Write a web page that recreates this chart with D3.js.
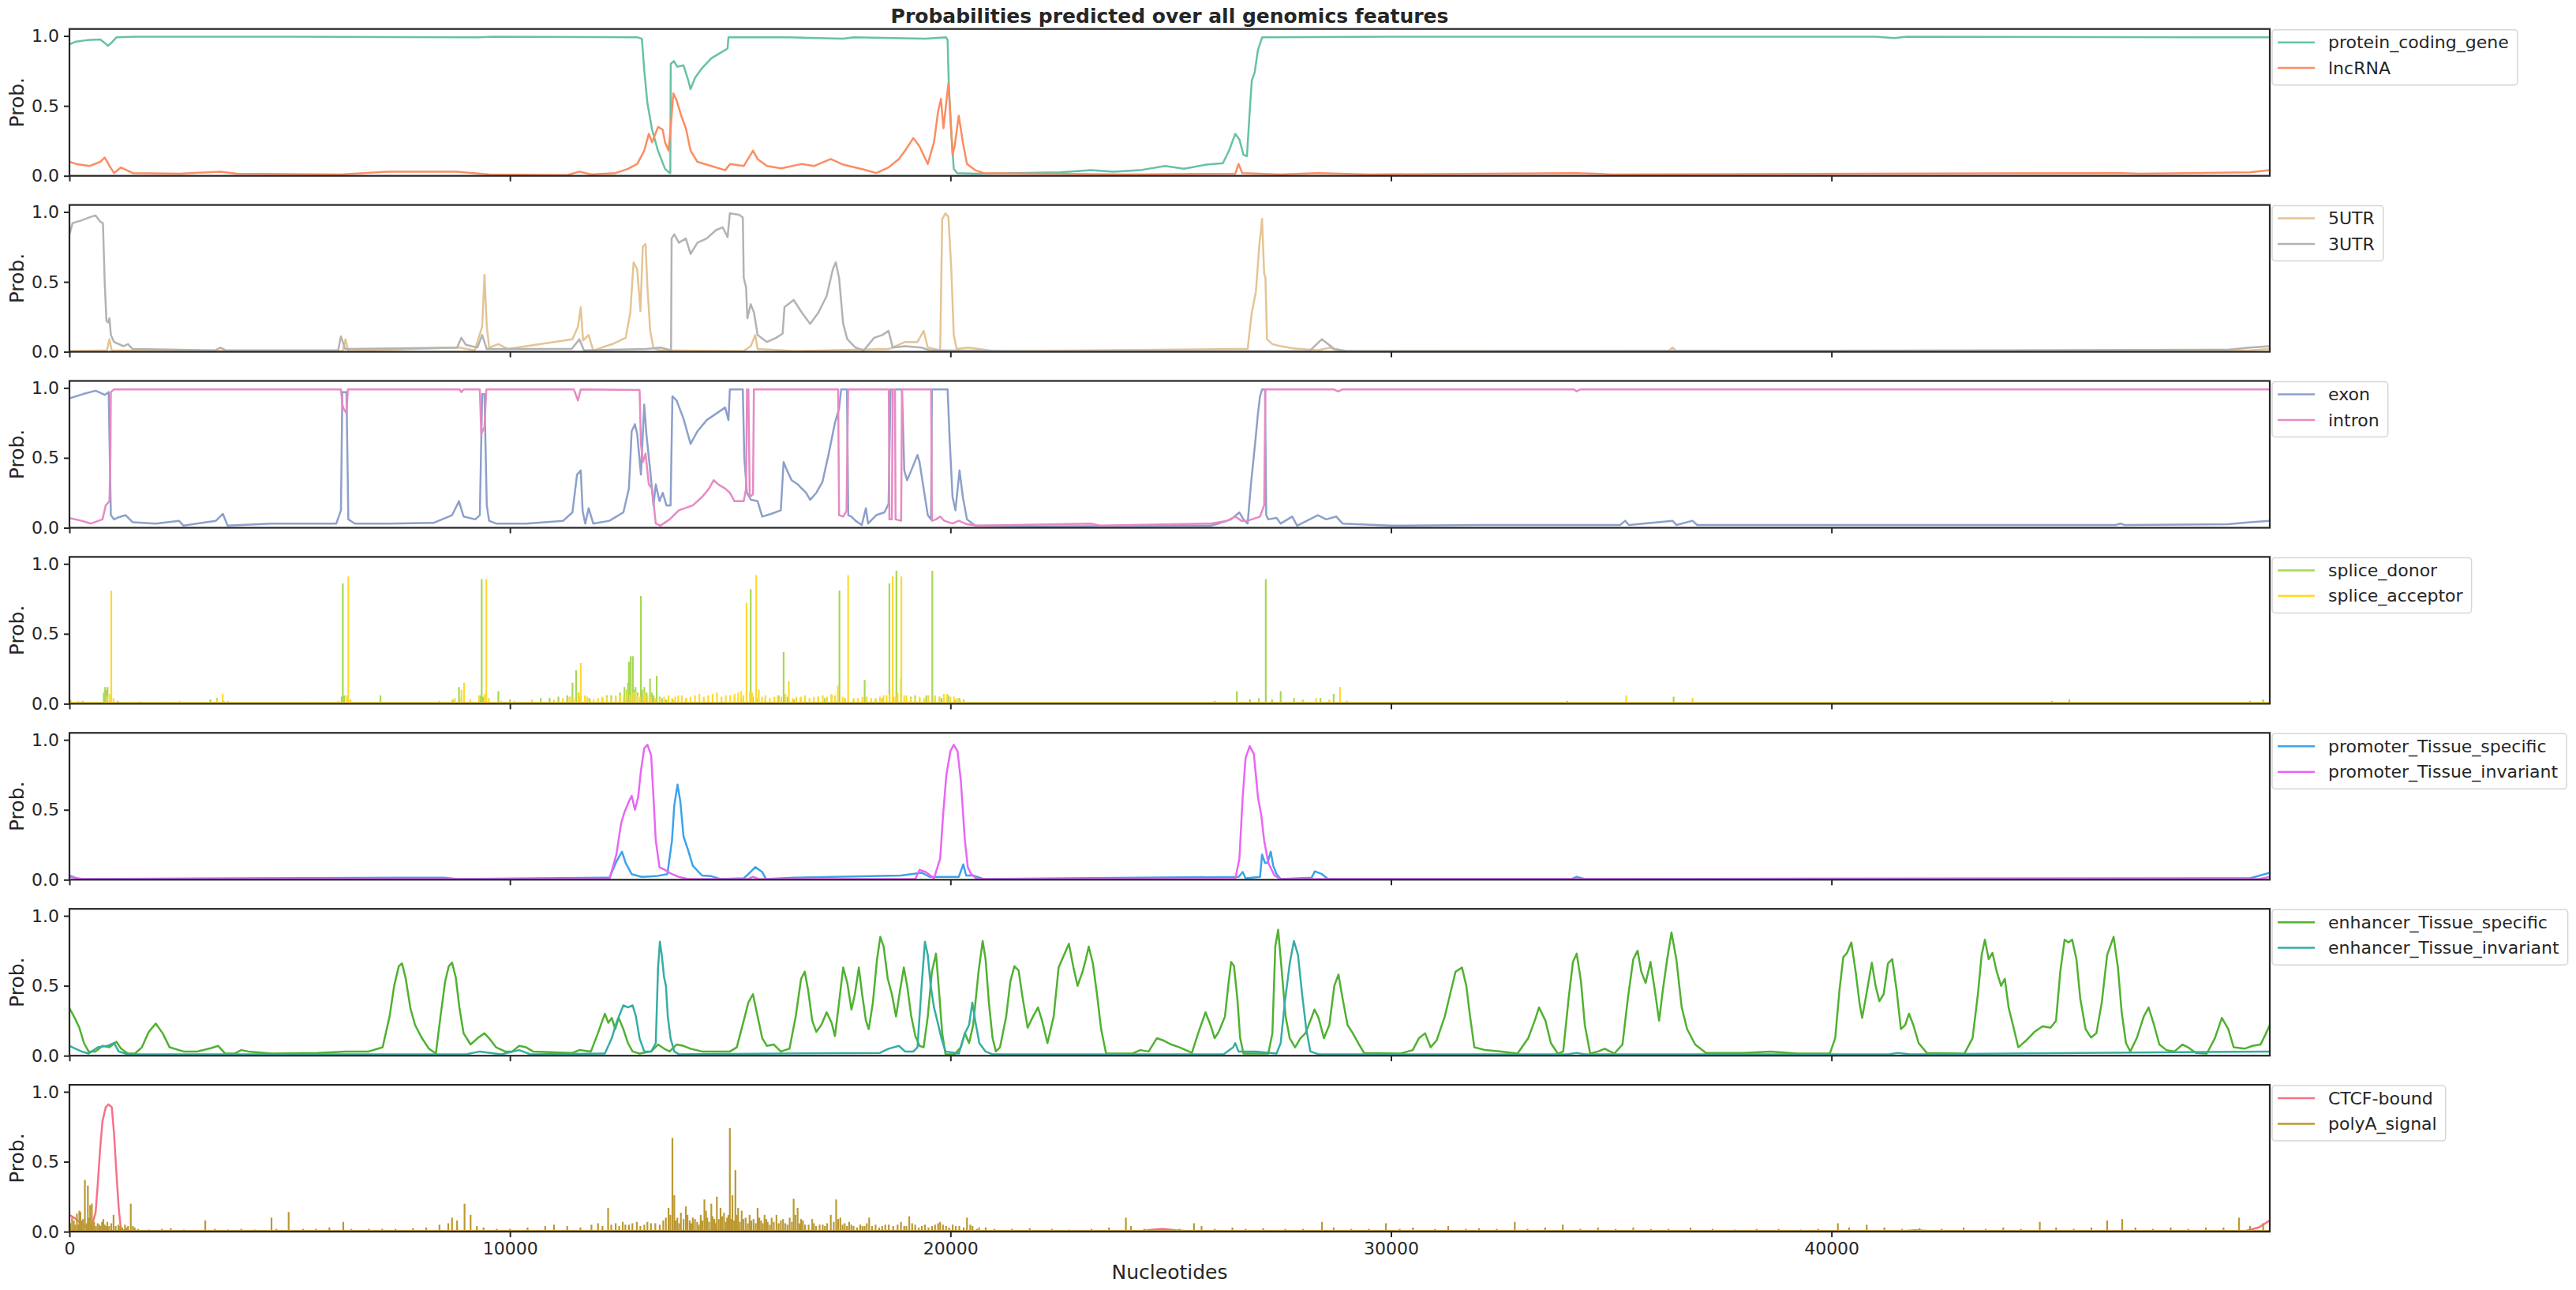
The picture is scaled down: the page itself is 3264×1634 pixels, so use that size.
<!DOCTYPE html>
<html><head><meta charset="utf-8">
<script src="https://cdn.jsdelivr.net/npm/d3@7"></script>
<style>
body{margin:0;background:#fff}
svg{display:block}
text{font-family:"DejaVu Sans",sans-serif;fill:#262626}
</style>
</head><body>
<svg id="chart" width="3264" height="1634"></svg>
<script>
// ---------------- DATA ----------------
const xMax = 49950;
const xTicks = [0, 10000, 20000, 30000, 40000];
const yTicks = [0, 0.5, 1.0];
const titleText = "Probabilities predicted over all genomics features";
const xLabel = "Nucleotides";
const yLabel = "Prob.";

const seriesNames = [
  ["protein_coding_gene", "lncRNA"],
  ["5UTR", "3UTR"],
  ["exon", "intron"],
  ["splice_donor", "splice_acceptor"],
  ["promoter_Tissue_specific", "promoter_Tissue_invariant"],
  ["enhancer_Tissue_specific", "enhancer_Tissue_invariant"],
  ["CTCF-bound", "polyA_signal"]
];

const proteinCoding = [[0,0.94],[150,0.96],[400,0.97],[700,0.975],[800,0.95],[870,0.93],[950,0.95],[1066,0.99],[1500,0.995],[5000,0.995],[9300,0.99],[9600,0.995],[12900,0.99],[12995,0.98],[13050,0.75],[13120,0.52],[13226,0.33],[13360,0.18],[13520,0.05],[13625,0.02],[13640,0.02],[13650,0.80],[13720,0.82],[13800,0.78],[13940,0.79],[14050,0.68],[14100,0.62],[14200,0.70],[14360,0.77],[14570,0.84],[14780,0.88],[14940,0.91],[14960,0.99],[15500,0.99],[16335,0.99],[17564,0.98],[17800,0.99],[19438,0.98],[19900,0.99],[19935,0.97],[19960,0.68],[20000,0.40],[20075,0.05],[20150,0.02],[20562,0.015],[21500,0.02],[22500,0.025],[23186,0.04],[23700,0.03],[24300,0.04],[24872,0.07],[25300,0.05],[25809,0.08],[26184,0.09],[26324,0.18],[26465,0.30],[26560,0.26],[26652,0.15],[26730,0.14],[26793,0.46],[26840,0.68],[26906,0.74],[26980,0.90],[27074,0.99],[30000,0.995],[41000,0.995],[41429,0.985],[41700,0.995],[49950,0.99]];

const lncRNA = [[0,0.10],[150,0.085],[450,0.07],[700,0.10],[800,0.13],[860,0.10],[908,0.07],[1013,0.02],[1170,0.06],[1434,0.02],[2500,0.015],[3430,0.03],[3800,0.015],[6163,0.01],[7214,0.03],[8790,0.03],[9526,0.01],[11300,0.005],[11576,0.03],[11850,0.01],[12400,0.02],[12679,0.05],[12890,0.085],[13048,0.18],[13152,0.30],[13226,0.24],[13362,0.35],[13468,0.33],[13520,0.24],[13600,0.18],[13646,0.33],[13709,0.59],[13783,0.54],[13888,0.43],[13993,0.34],[14100,0.18],[14257,0.10],[14571,0.07],[14886,0.04],[15000,0.085],[15307,0.07],[15517,0.18],[15622,0.12],[15834,0.07],[16159,0.053],[16627,0.085],[16900,0.07],[17283,0.12],[17564,0.08],[18033,0.045],[18314,0.02],[18595,0.06],[18830,0.12],[18970,0.18],[19157,0.27],[19298,0.21],[19485,0.085],[19626,0.24],[19719,0.46],[19785,0.55],[19841,0.34],[19907,0.53],[19953,0.66],[20000,0.43],[20047,0.15],[20094,0.21],[20188,0.43],[20281,0.24],[20375,0.085],[20562,0.04],[20750,0.02],[22000,0.015],[24000,0.01],[26465,0.015],[26540,0.085],[26624,0.02],[27500,0.01],[28339,0.02],[29500,0.01],[34216,0.02],[35000,0.01],[46563,0.02],[47000,0.015],[49500,0.025],[49950,0.04]];

const utr5 = [[0,0.005],[850,0.01],[908,0.09],[960,0.01],[6200,0.005],[6268,0.09],[6330,0.005],[8850,0.03],[9200,0.01],[9369,0.18],[9422,0.55],[9474,0.18],[9530,0.03],[9737,0.055],[9950,0.02],[11418,0.09],[11544,0.18],[11607,0.32],[11660,0.08],[11786,0.12],[11891,0.01],[12364,0.06],[12627,0.10],[12732,0.28],[12806,0.64],[12889,0.59],[12962,0.29],[13015,0.75],[13078,0.77],[13121,0.46],[13184,0.15],[13258,0.025],[13420,0.01],[15300,0.005],[15465,0.04],[15570,0.12],[15622,0.02],[16500,0.005],[18600,0.02],[18970,0.07],[19251,0.07],[19391,0.15],[19485,0.03],[19766,0.01],[19813,0.95],[19888,0.99],[19953,0.965],[20019,0.59],[20075,0.12],[20140,0.02],[20400,0.03],[21000,0.005],[26465,0.02],[26746,0.02],[26840,0.28],[26934,0.43],[27008,0.75],[27074,0.95],[27121,0.56],[27150,0.53],[27186,0.09],[27308,0.055],[27496,0.04],[27777,0.025],[28339,0.01],[28620,0.03],[28808,0.005],[36300,0.005],[36392,0.03],[36480,0.005],[49500,0.01],[49950,0.02]];

const utr3 = [[0,0.84],[70,0.92],[277,0.94],[488,0.965],[593,0.975],[698,0.93],[760,0.92],[800,0.50],[840,0.22],[880,0.21],[908,0.24],[940,0.12],[1013,0.07],[1224,0.04],[1329,0.055],[1434,0.02],[3300,0.01],[3430,0.03],[3550,0.01],[6100,0.01],[6163,0.11],[6260,0.02],[8800,0.03],[8896,0.10],[9000,0.05],[9260,0.03],[9369,0.12],[9474,0.02],[11400,0.02],[11576,0.09],[11680,0.01],[13100,0.02],[13420,0.03],[13657,0.01],[13670,0.81],[13730,0.84],[13835,0.78],[13993,0.81],[14100,0.70],[14257,0.78],[14466,0.81],[14676,0.87],[14830,0.89],[14940,0.82],[14992,0.99],[15202,0.98],[15286,0.96],[15307,0.53],[15360,0.46],[15390,0.24],[15465,0.34],[15540,0.28],[15622,0.12],[15834,0.07],[16044,0.10],[16190,0.13],[16232,0.32],[16440,0.37],[16627,0.28],[16815,0.20],[17002,0.28],[17190,0.40],[17330,0.59],[17396,0.64],[17471,0.53],[17564,0.20],[17658,0.09],[17845,0.03],[18033,0.01],[18267,0.10],[18455,0.12],[18595,0.15],[18689,0.03],[18970,0.04],[19345,0.03],[19532,0.01],[22000,0.005],[28151,0.005],[28432,0.09],[28714,0.02],[29000,0.005],[40000,0.008],[49000,0.015],[49500,0.03],[49950,0.04]];

const exon = [[0,0.925],[300,0.955],[593,0.98],[803,0.95],[890,0.97],[940,0.09],[1013,0.06],[1118,0.075],[1276,0.09],[1434,0.04],[1959,0.03],[2485,0.05],[2590,0.015],[3325,0.05],[3483,0.10],[3590,0.015],[4587,0.03],[5100,0.03],[6058,0.03],[6163,0.125],[6195,0.97],[6289,0.97],[6331,0.06],[6480,0.03],[7214,0.03],[8264,0.035],[8686,0.09],[8843,0.19],[8948,0.08],[9211,0.06],[9316,0.09],[9369,0.955],[9421,0.955],[9474,0.16],[9526,0.05],[9684,0.03],[10367,0.03],[11208,0.05],[11418,0.11],[11523,0.38],[11607,0.41],[11650,0.12],[11710,0.03],[11786,0.14],[11891,0.03],[12259,0.05],[12575,0.11],[12700,0.28],[12763,0.69],[12837,0.74],[12889,0.67],[12973,0.38],[13048,0.88],[13100,0.66],[13184,0.41],[13258,0.16],[13310,0.31],[13394,0.19],[13468,0.25],[13552,0.16],[13646,0.16],[13688,0.94],[13783,0.91],[13940,0.78],[14100,0.60],[14257,0.69],[14466,0.77],[14676,0.815],[14886,0.86],[14960,0.77],[14992,0.99],[15286,0.99],[15320,0.50],[15380,0.25],[15470,0.20],[15622,0.19],[15727,0.08],[15938,0.10],[16148,0.125],[16212,0.47],[16290,0.41],[16393,0.34],[16534,0.31],[16721,0.25],[16815,0.20],[16955,0.25],[17096,0.33],[17236,0.53],[17377,0.75],[17471,0.85],[17518,0.99],[17650,0.99],[17680,0.09],[17752,0.08],[17845,0.05],[17986,0.02],[18080,0.14],[18130,0.03],[18314,0.09],[18500,0.11],[18595,0.17],[18640,0.99],[18900,0.99],[18951,0.41],[19017,0.34],[19110,0.41],[19251,0.52],[19298,0.47],[19391,0.28],[19485,0.09],[19560,0.06],[19579,0.99],[19935,0.99],[19982,0.63],[20047,0.22],[20113,0.125],[20206,0.41],[20281,0.22],[20375,0.06],[20562,0.015],[22000,0.01],[25903,0.015],[26090,0.03],[26371,0.06],[26559,0.11],[26652,0.06],[26746,0.03],[26821,0.31],[26915,0.60],[26980,0.815],[27027,0.94],[27074,0.99],[27140,0.99],[27168,0.09],[27215,0.06],[27402,0.07],[27496,0.03],[27758,0.08],[27870,0.015],[28339,0.09],[28530,0.06],[28761,0.08],[28900,0.03],[30000,0.015],[32000,0.02],[35200,0.02],[35317,0.05],[35400,0.02],[36392,0.05],[36480,0.02],[36845,0.05],[36950,0.02],[46450,0.02],[46563,0.03],[46650,0.02],[49000,0.025],[49500,0.04],[49950,0.05]];

const intron = [[0,0.07],[277,0.05],[488,0.03],[750,0.06],[824,0.16],[908,0.19],[930,0.5],[940,0.97],[1013,0.99],[6163,0.99],[6195,0.88],[6226,0.85],[6289,0.82],[6320,0.99],[8860,0.99],[8896,0.97],[8950,0.99],[9316,0.99],[9348,0.67],[9421,0.72],[9464,0.99],[11450,0.99],[11544,0.91],[11607,0.99],[12943,0.985],[12973,0.60],[13020,0.47],[13078,0.53],[13152,0.31],[13226,0.28],[13310,0.03],[13415,0.015],[13625,0.06],[13835,0.125],[14151,0.16],[14361,0.22],[14519,0.28],[14624,0.34],[14730,0.31],[14886,0.28],[14992,0.25],[15097,0.19],[15307,0.19],[15360,0.28],[15381,0.99],[15412,0.99],[15444,0.22],[15517,0.24],[15538,0.99],[17450,0.99],[17471,0.09],[17564,0.08],[17640,0.12],[17677,0.99],[18600,0.99],[18614,0.06],[18670,0.06],[18690,0.99],[18740,0.99],[18754,0.06],[18880,0.05],[18900,0.99],[19560,0.99],[19579,0.05],[19672,0.06],[19766,0.08],[19860,0.05],[20047,0.03],[20188,0.05],[20375,0.025],[20600,0.015],[23186,0.03],[23400,0.015],[25903,0.03],[26277,0.05],[26465,0.08],[26605,0.05],[26746,0.05],[27027,0.08],[27121,0.16],[27150,0.99],[28700,0.99],[28800,0.975],[28900,0.99],[34150,0.99],[34216,0.975],[34300,0.99],[49950,0.99]];

const spliceDonor = [[30,0.02],[300,0.02],[780,0.08],[810,0.12],[840,0.10],[866,0.12],[1100,0.02],[1600,0.015],[3200,0.03],[3350,0.04],[3500,0.02],[5500,0.01],[6180,0.05],[6205,0.86],[6240,0.06],[7060,0.06],[8700,0.03],[8843,0.12],[8900,0.05],[9330,0.06],[9358,0.89],[9390,0.05],[9737,0.09],[10000,0.03],[10700,0.04],[10900,0.04],[11100,0.05],[11300,0.06],[11420,0.15],[11502,0.24],[11560,0.08],[11600,0.05],[11700,0.03],[11800,0.04],[12100,0.04],[12200,0.06],[12300,0.06],[12400,0.05],[12500,0.08],[12600,0.12],[12650,0.10],[12680,0.15],[12700,0.30],[12742,0.34],[12790,0.34],[12820,0.10],[12850,0.12],[12900,0.08],[12973,0.77],[13000,0.10],[13050,0.12],[13100,0.08],[13180,0.18],[13220,0.08],[13260,0.06],[13331,0.20],[13400,0.05],[13450,0.04],[13550,0.03],[13700,0.03],[14000,0.04],[14400,0.03],[14800,0.04],[15100,0.05],[15250,0.04],[15465,0.82],[15520,0.05],[15600,0.04],[15800,0.04],[16000,0.04],[16100,0.06],[16212,0.37],[16300,0.05],[16450,0.03],[16600,0.04],[17000,0.05],[17150,0.04],[17300,0.06],[17480,0.81],[17600,0.04],[17800,0.03],[18052,0.17],[18300,0.03],[18450,0.04],[18614,0.86],[18700,0.05],[18773,0.95],[18876,0.18],[19100,0.05],[19200,0.06],[19300,0.04],[19450,0.06],[19588,0.95],[19650,0.05],[19750,0.05],[19800,0.04],[19950,0.06],[20100,0.03],[20200,0.04],[20300,0.03],[21000,0.01],[26000,0.02],[26502,0.09],[26800,0.03],[27000,0.04],[27158,0.89],[27300,0.03],[27496,0.09],[27800,0.04],[28000,0.03],[28400,0.04],[28700,0.07],[29000,0.02],[30000,0.01],[34000,0.02],[36417,0.05],[38000,0.01],[45000,0.02],[45400,0.03],[49500,0.02],[49800,0.03]];

const spliceAcceptor = [[20,0.03],[200,0.02],[500,0.015],[850,0.05],[920,0.07],[950,0.81],[1000,0.04],[1400,0.015],[2100,0.015],[2500,0.02],[3350,0.03],[3480,0.07],[3600,0.02],[4500,0.01],[5500,0.015],[6100,0.02],[6300,0.06],[6331,0.91],[6380,0.03],[7200,0.01],[8400,0.02],[8750,0.04],[8900,0.10],[8959,0.15],[9100,0.03],[9300,0.06],[9430,0.07],[9463,0.89],[9520,0.04],[9800,0.02],[10100,0.02],[10500,0.03],[11000,0.03],[11200,0.04],[11350,0.05],[11400,0.06],[11480,0.04],[11550,0.08],[11607,0.29],[11700,0.06],[11750,0.05],[11820,0.03],[11900,0.03],[12000,0.04],[12100,0.05],[12200,0.05],[12300,0.04],[12400,0.06],[12500,0.06],[12580,0.05],[12660,0.10],[12720,0.06],[12800,0.08],[12850,0.09],[12900,0.06],[12950,0.05],[13050,0.08],[13120,0.06],[13200,0.05],[13300,0.04],[13400,0.04],[13500,0.05],[13600,0.06],[13680,0.04],[13750,0.05],[13820,0.06],[13900,0.06],[14000,0.04],[14100,0.05],[14200,0.06],[14300,0.07],[14400,0.05],[14500,0.06],[14600,0.07],[14700,0.08],[14800,0.05],[14900,0.06],[15000,0.06],[15100,0.07],[15180,0.08],[15250,0.09],[15300,0.06],[15370,0.72],[15450,0.09],[15500,0.08],[15590,0.92],[15650,0.10],[15720,0.05],[15800,0.06],[15900,0.04],[16000,0.05],[16080,0.06],[16159,0.05],[16250,0.07],[16330,0.16],[16420,0.04],[16500,0.05],[16600,0.05],[16700,0.06],[16800,0.04],[16900,0.05],[17000,0.05],[17100,0.06],[17200,0.05],[17300,0.07],[17380,0.06],[17442,0.13],[17550,0.05],[17600,0.04],[17677,0.92],[17800,0.04],[17900,0.04],[18000,0.05],[18100,0.05],[18200,0.04],[18300,0.04],[18400,0.05],[18480,0.06],[18550,0.06],[18620,0.07],[18689,0.91],[18750,0.05],[18800,0.08],[18885,0.91],[18950,0.06],[19000,0.06],[19100,0.04],[19200,0.05],[19300,0.05],[19400,0.04],[19500,0.06],[19650,0.06],[19750,0.05],[19850,0.07],[19920,0.07],[20000,0.05],[20080,0.05],[20150,0.04],[20220,0.03],[20300,0.02],[21500,0.005],[26000,0.01],[27000,0.02],[28000,0.03],[28300,0.04],[28600,0.03],[28844,0.12],[29000,0.02],[29500,0.01],[31000,0.01],[33000,0.01],[35341,0.06],[36845,0.04],[38000,0.01],[40000,0.01],[43000,0.01],[46500,0.01],[49000,0.01]];

const promoterSpecific = [[0,0.03],[200,0.005],[8500,0.015],[8800,0.005],[12259,0.015],[12416,0.13],[12543,0.20],[12627,0.12],[12763,0.04],[12990,0.02],[13310,0.025],[13573,0.04],[13678,0.28],[13730,0.53],[13804,0.68],[13867,0.56],[13940,0.31],[14046,0.21],[14151,0.10],[14361,0.03],[14571,0.025],[14780,0.005],[15307,0.01],[15412,0.04],[15570,0.09],[15727,0.055],[15812,0.005],[16440,0.015],[18876,0.03],[19345,0.05],[19532,0.02],[20188,0.02],[20291,0.11],[20355,0.03],[20516,0.03],[20750,0.005],[26540,0.02],[26634,0.055],[26700,0.01],[27027,0.02],[27074,0.18],[27140,0.12],[27196,0.12],[27271,0.20],[27327,0.10],[27402,0.04],[27496,0.005],[28198,0.015],[28273,0.06],[28432,0.04],[28573,0.005],[34100,0.005],[34216,0.02],[34400,0.005],[49500,0.01],[49950,0.05]];

const promoterInvariant = [[0,0.02],[300,0.005],[12259,0.005],[12416,0.18],[12522,0.40],[12596,0.48],[12701,0.56],[12763,0.60],[12837,0.50],[12910,0.59],[12973,0.78],[13048,0.94],[13121,0.965],[13205,0.89],[13258,0.59],[13310,0.28],[13394,0.09],[13520,0.07],[13678,0.04],[13835,0.02],[14046,0.005],[15400,0.005],[15517,0.02],[15650,0.005],[19200,0.005],[19298,0.07],[19438,0.055],[19626,0.01],[19766,0.15],[19832,0.46],[19907,0.75],[20000,0.92],[20075,0.965],[20160,0.92],[20235,0.71],[20328,0.28],[20394,0.09],[20469,0.04],[20609,0.005],[26465,0.005],[26559,0.15],[26634,0.59],[26700,0.87],[26793,0.955],[26887,0.90],[26981,0.59],[27056,0.46],[27121,0.28],[27215,0.12],[27355,0.03],[27496,0.005],[49700,0.005],[49950,0.02]];

const enhancerSpecific = [[0,0.34],[120,0.27],[225,0.20],[330,0.09],[435,0.03],[593,0.03],[750,0.07],[908,0.06],[1066,0.10],[1171,0.05],[1328,0.015],[1486,0.015],[1644,0.06],[1801,0.17],[1959,0.23],[2117,0.16],[2274,0.06],[2590,0.03],[2905,0.03],[3220,0.055],[3378,0.07],[3536,0.015],[3746,0.015],[3903,0.04],[4061,0.03],[4587,0.015],[5640,0.02],[6268,0.03],[6794,0.03],[7109,0.06],[7267,0.28],[7372,0.50],[7477,0.64],[7550,0.66],[7634,0.55],[7740,0.34],[7845,0.22],[8003,0.125],[8160,0.05],[8318,0.015],[8423,0.28],[8528,0.53],[8612,0.64],[8686,0.665],[8770,0.56],[8854,0.34],[8948,0.16],[9106,0.08],[9264,0.125],[9421,0.16],[9526,0.125],[9684,0.06],[9894,0.03],[10052,0.03],[10209,0.07],[10367,0.06],[10525,0.03],[11418,0.02],[11576,0.04],[11838,0.03],[11996,0.16],[12154,0.30],[12233,0.235],[12311,0.27],[12390,0.19],[12469,0.27],[12574,0.19],[12679,0.09],[12784,0.03],[12942,0.015],[13205,0.03],[13362,0.08],[13499,0.05],[13625,0.03],[13783,0.08],[13940,0.07],[14100,0.05],[14361,0.03],[14992,0.03],[15149,0.06],[15307,0.25],[15412,0.38],[15517,0.44],[15622,0.28],[15727,0.125],[15834,0.07],[15991,0.08],[16148,0.03],[16346,0.05],[16487,0.28],[16609,0.55],[16693,0.60],[16768,0.47],[16862,0.25],[16955,0.17],[17068,0.22],[17190,0.31],[17302,0.235],[17377,0.14],[17471,0.38],[17564,0.63],[17658,0.52],[17752,0.33],[17830,0.44],[17920,0.63],[17995,0.44],[18080,0.25],[18145,0.19],[18239,0.38],[18333,0.69],[18408,0.85],[18483,0.78],[18576,0.55],[18670,0.44],[18764,0.28],[18857,0.47],[18941,0.63],[19017,0.50],[19110,0.28],[19204,0.14],[19298,0.07],[19391,0.06],[19485,0.28],[19579,0.60],[19672,0.73],[19738,0.47],[19813,0.16],[19888,0.01],[20094,0.01],[20235,0.06],[20328,0.16],[20422,0.09],[20516,0.22],[20637,0.60],[20731,0.82],[20797,0.69],[20872,0.38],[20956,0.125],[21031,0.03],[21125,0.06],[21265,0.28],[21359,0.53],[21452,0.64],[21546,0.61],[21640,0.41],[21752,0.20],[21874,0.28],[21987,0.345],[22080,0.25],[22202,0.09],[22343,0.28],[22455,0.63],[22577,0.72],[22689,0.80],[22792,0.63],[22886,0.50],[22998,0.60],[23073,0.69],[23139,0.78],[23233,0.66],[23326,0.44],[23420,0.19],[23533,0.015],[24123,0.015],[24310,0.04],[24498,0.03],[24685,0.125],[24825,0.11],[25013,0.08],[25200,0.06],[25481,0.02],[25622,0.16],[25790,0.31],[25903,0.22],[25997,0.125],[26090,0.17],[26231,0.28],[26306,0.50],[26371,0.67],[26437,0.64],[26512,0.41],[26577,0.125],[26652,0.015],[27215,0.015],[27308,0.16],[27374,0.78],[27439,0.90],[27514,0.63],[27608,0.28],[27702,0.125],[27823,0.06],[27945,0.125],[28057,0.16],[28170,0.25],[28264,0.33],[28357,0.27],[28479,0.125],[28601,0.22],[28714,0.50],[28808,0.58],[28901,0.41],[29014,0.22],[29135,0.16],[29276,0.08],[29389,0.02],[30213,0.015],[30494,0.04],[30634,0.125],[30775,0.16],[30900,0.06],[31038,0.11],[31221,0.28],[31343,0.44],[31466,0.60],[31612,0.63],[31710,0.50],[31796,0.28],[31893,0.06],[32138,0.04],[32505,0.03],[32872,0.015],[33116,0.125],[33263,0.25],[33361,0.345],[33507,0.25],[33630,0.09],[33788,0.015],[33910,0.03],[34033,0.41],[34131,0.67],[34216,0.73],[34314,0.53],[34400,0.22],[34522,0.015],[34700,0.03],[34852,0.05],[35072,0.015],[35255,0.08],[35378,0.41],[35500,0.69],[35598,0.75],[35683,0.60],[35781,0.52],[35891,0.67],[35989,0.47],[36087,0.25],[36172,0.47],[36270,0.69],[36368,0.88],[36478,0.69],[36600,0.345],[36723,0.19],[36906,0.08],[37150,0.02],[38006,0.02],[38617,0.03],[39229,0.015],[39962,0.015],[40084,0.125],[40182,0.47],[40268,0.705],[40353,0.735],[40451,0.81],[40549,0.60],[40635,0.38],[40696,0.27],[40793,0.44],[40916,0.665],[41001,0.50],[41087,0.39],[41185,0.44],[41282,0.66],[41380,0.69],[41478,0.47],[41576,0.19],[41674,0.22],[41759,0.30],[41857,0.22],[41979,0.09],[42162,0.02],[43018,0.015],[43202,0.125],[43324,0.44],[43409,0.72],[43483,0.83],[43569,0.69],[43655,0.735],[43752,0.60],[43850,0.50],[43935,0.55],[44021,0.345],[44119,0.22],[44241,0.06],[44424,0.11],[44608,0.17],[44791,0.21],[44974,0.20],[45097,0.25],[45194,0.60],[45292,0.83],[45378,0.81],[45463,0.83],[45561,0.69],[45647,0.41],[45769,0.19],[45891,0.13],[46013,0.16],[46136,0.38],[46258,0.72],[46405,0.85],[46503,0.63],[46588,0.31],[46686,0.09],[46783,0.03],[46930,0.125],[47089,0.28],[47199,0.345],[47322,0.22],[47444,0.08],[47603,0.04],[47786,0.03],[47970,0.08],[48092,0.06],[48275,0.02],[48520,0.015],[48703,0.125],[48862,0.27],[49009,0.19],[49131,0.06],[49375,0.05],[49558,0.07],[49741,0.08],[49850,0.15],[49950,0.22]];

const enhancerInvariant = [[0,0.07],[277,0.03],[435,0.015],[645,0.06],[855,0.07],[1013,0.09],[1118,0.03],[1328,0.01],[9000,0.01],[9316,0.03],[9800,0.01],[10209,0.04],[10460,0.01],[12154,0.015],[12311,0.125],[12416,0.235],[12574,0.36],[12679,0.345],[12784,0.36],[12860,0.28],[12942,0.125],[13048,0.03],[13205,0.03],[13310,0.09],[13362,0.63],[13404,0.815],[13446,0.72],[13499,0.56],[13541,0.50],[13583,0.28],[13646,0.125],[13730,0.03],[13835,0.01],[18400,0.02],[18595,0.05],[18829,0.07],[18970,0.03],[19157,0.03],[19251,0.06],[19345,0.50],[19420,0.815],[19485,0.72],[19551,0.50],[19626,0.345],[19701,0.25],[19794,0.125],[19888,0.03],[20188,0.015],[20328,0.16],[20422,0.22],[20497,0.38],[20562,0.25],[20656,0.09],[20797,0.03],[20950,0.01],[26200,0.01],[26418,0.06],[26465,0.09],[26540,0.03],[26930,0.03],[27402,0.015],[27496,0.09],[27590,0.38],[27702,0.66],[27796,0.82],[27890,0.72],[27983,0.44],[28077,0.19],[28170,0.03],[28357,0.01],[34000,0.01],[34216,0.02],[34400,0.01],[41300,0.01],[41500,0.02],[41800,0.01],[49950,0.03]];

const ctcfBound = [[0,0.12],[150,0.09],[330,0.04],[488,0.02],[593,0.135],[645,0.35],[698,0.60],[750,0.79],[824,0.89],[887,0.91],[961,0.89],[1013,0.70],[1066,0.42],[1118,0.17],[1171,0.01],[1400,0.003],[24300,0.003],[24600,0.015],[24815,0.02],[25100,0.01],[25400,0.003],[41600,0.003],[41900,0.01],[42300,0.003],[49400,0.005],[49700,0.03],[49950,0.08]];

const polyASignal = [[20,0.06],[60,0.10],[100,0.08],[130,0.05],[170,0.13],[200,0.05],[225,0.15],[250,0.14],[280,0.08],[310,0.09],[350,0.37],[390,0.06],[418,0.33],[450,0.10],[470,0.19],[509,0.20],[530,0.05],[560,0.07],[600,0.04],[640,0.06],[680,0.05],[710,0.04],[740,0.07],[770,0.09],[800,0.05],[830,0.04],[860,0.07],[900,0.04],[950,0.06],[1001,0.12],[1050,0.04],[1110,0.05],[1150,0.04],[1200,0.03],[1260,0.05],[1300,0.03],[1330,0.04],[1392,0.20],[1440,0.04],[1480,0.03],[1560,0.02],[1800,0.015],[2100,0.02],[2300,0.025],[2600,0.015],[3084,0.08],[3300,0.02],[3600,0.015],[3900,0.02],[4200,0.015],[4587,0.10],[4700,0.02],[4976,0.14],[5300,0.02],[5600,0.02],[5900,0.03],[6216,0.07],[6400,0.02],[6800,0.02],[7100,0.02],[7400,0.02],[7800,0.025],[8100,0.03],[8400,0.05],[8600,0.06],[8685,0.10],[8800,0.08],[8969,0.20],[9106,0.12],[9250,0.04],[9400,0.03],[9700,0.02],[10000,0.02],[10400,0.03],[10800,0.04],[11000,0.05],[11300,0.04],[11600,0.03],[11850,0.05],[12000,0.06],[12100,0.04],[12228,0.17],[12300,0.05],[12400,0.06],[12480,0.04],[12560,0.07],[12620,0.05],[12700,0.05],[12780,0.06],[12880,0.07],[12960,0.04],[13050,0.05],[13120,0.07],[13200,0.06],[13300,0.06],[13400,0.05],[13480,0.08],[13540,0.10],[13600,0.17],[13640,0.12],[13688,0.67],[13730,0.26],[13760,0.08],[13800,0.10],[13840,0.06],[13880,0.135],[13940,0.09],[13993,0.18],[14030,0.12],[14080,0.08],[14120,0.06],[14151,0.10],[14200,0.09],[14250,0.07],[14290,0.05],[14330,0.12],[14370,0.08],[14414,0.23],[14450,0.15],[14480,0.10],[14520,0.07],[14571,0.20],[14600,0.11],[14640,0.09],[14670,0.06],[14697,0.25],[14740,0.09],[14780,0.17],[14820,0.11],[14860,0.135],[14900,0.07],[14930,0.10],[14960,0.12],[14992,0.74],[15020,0.09],[15050,0.26],[15090,0.08],[15118,0.44],[15150,0.12],[15180,0.17],[15220,0.07],[15260,0.15],[15300,0.09],[15350,0.10],[15400,0.06],[15440,0.12],[15480,0.08],[15530,0.09],[15580,0.06],[15622,0.17],[15660,0.10],[15700,0.08],[15740,0.06],[15780,0.12],[15820,0.09],[15850,0.07],[15900,0.05],[15940,0.10],[15990,0.07],[16050,0.12],[16100,0.06],[16150,0.08],[16200,0.09],[16250,0.06],[16300,0.05],[16350,0.10],[16400,0.07],[16440,0.235],[16480,0.12],[16530,0.17],[16570,0.06],[16610,0.09],[16650,0.08],[16700,0.05],[16780,0.05],[16862,0.09],[16900,0.06],[16950,0.04],[17030,0.05],[17100,0.05],[17150,0.04],[17200,0.06],[17283,0.12],[17350,0.07],[17405,0.23],[17450,0.09],[17500,0.10],[17550,0.05],[17600,0.06],[17650,0.04],[17700,0.07],[17750,0.05],[17800,0.04],[17880,0.03],[17950,0.05],[18000,0.04],[18050,0.04],[18100,0.06],[18155,0.10],[18220,0.04],[18300,0.05],[18380,0.03],[18450,0.04],[18520,0.05],[18600,0.05],[18700,0.04],[18800,0.05],[18876,0.07],[18950,0.04],[19000,0.04],[19064,0.11],[19130,0.06],[19200,0.05],[19280,0.03],[19350,0.04],[19420,0.05],[19500,0.03],[19580,0.04],[19650,0.05],[19720,0.06],[19766,0.07],[19830,0.05],[19900,0.04],[19970,0.03],[20050,0.05],[20120,0.04],[20200,0.04],[20300,0.03],[20375,0.10],[20450,0.05],[20500,0.04],[20600,0.02],[20650,0.03],[20800,0.03],[21000,0.02],[21400,0.02],[21800,0.025],[22300,0.02],[22700,0.015],[23200,0.02],[23600,0.03],[23982,0.10],[24100,0.04],[24400,0.02],[24815,0.015],[25200,0.02],[25528,0.06],[25700,0.04],[26000,0.02],[26400,0.03],[26700,0.02],[27100,0.025],[27600,0.02],[28000,0.02],[28433,0.07],[28700,0.03],[29100,0.02],[29500,0.02],[29885,0.06],[30200,0.02],[30500,0.03],[31000,0.02],[31300,0.04],[31700,0.02],[32000,0.025],[32400,0.02],[32810,0.07],[33100,0.02],[33500,0.03],[33900,0.05],[34300,0.02],[34700,0.03],[35100,0.02],[35500,0.03],[35900,0.02],[36300,0.02],[36800,0.03],[37300,0.02],[37800,0.015],[38300,0.02],[38800,0.02],[39300,0.015],[39700,0.02],[40145,0.06],[40400,0.03],[40800,0.05],[41200,0.03],[41600,0.02],[42000,0.025],[42500,0.02],[43000,0.03],[43500,0.02],[43900,0.03],[44300,0.02],[44729,0.07],[45100,0.03],[45500,0.02],[45900,0.03],[46258,0.08],[46600,0.09],[46900,0.03],[47300,0.02],[47700,0.03],[48100,0.02],[48500,0.03],[48900,0.03],[49253,0.10],[49500,0.04],[49800,0.06]];

// series per panel (data) and how each is drawn
const panelData = [
  [proteinCoding, lncRNA],
  [utr5, utr3],
  [exon, intron],
  [spliceDonor, spliceAcceptor],
  [promoterSpecific, promoterInvariant],
  [enhancerSpecific, enhancerInvariant],
  [ctcfBound, polyASignal]
];
const panelKinds = [
  ["line","line"],["line","line"],["line","line"],["stem","stem"],
  ["line","line"],["line","line"],["line","stem"]
];
// ---------------- STYLE ----------------
const colors = [
  ["#66c2a5","#fc8d62"],
  ["#e5c494","#b3b3b3"],
  ["#8da0cb","#e78ac3"],
  ["#a6d854","#ffd92f"],
  ["#3ba3ec","#e866f4"],
  ["#50b131","#36ada4"],
  ["#f77189","#bb9832"]
];

const W = 3264, H = 1634;
const left = 88, right = 2876;
const top0 = 36.7, step = 222.9, ph = 186;
const ink = "#262626";

const svg = d3.select("#chart");
svg.append("rect").attr("width", W).attr("height", H).attr("fill", "#fff");

const x = d3.scaleLinear().domain([0, xMax]).range([left, right]);

svg.append("text").attr("x", (left+right)/2).attr("y", 28.5)
  .attr("text-anchor","middle").attr("font-size", 25).attr("font-weight","bold")
  .text(titleText);

panelData.forEach((series, i) => {
  const t = top0 + i*step;
  const y = d3.scaleLinear().domain([0, 1.05]).range([t+ph, t]);
  const g = svg.append("g");
  const cid = "clip"+i;
  svg.append("clipPath").attr("id", cid).append("rect")
    .attr("x", left).attr("y", t).attr("width", right-left).attr("height", ph);
  const plot = g.append("g").attr("clip-path", `url(#${cid})`);
  series.forEach((data, j) => {
    const col = colors[i][j];
    if (panelKinds[i][j] === "line") {
      const line = d3.line().x(d => x(d[0])).y(d => y(d[1]));
      plot.append("path").datum(data).attr("d", line)
        .attr("fill","none").attr("stroke", col).attr("stroke-width", 2.5)
        .attr("stroke-linejoin","round");
    } else {
      plot.append("g").selectAll("line").data(data).join("line")
        .attr("x1", d => x(d[0])).attr("x2", d => x(d[0]))
        .attr("y1", y(0)).attr("y2", d => y(d[1]))
        .attr("stroke", col).attr("stroke-width", 2.2);
      plot.append("line").attr("x1", x(0)).attr("x2", x(xMax))
        .attr("y1", y(0.006)).attr("y2", y(0.006))
        .attr("stroke", col).attr("stroke-width", 2.2);
    }
  });
  // axes
  const ya = d3.axisLeft(y).tickValues(yTicks).tickFormat(d3.format(".1f")).tickSize(7).tickPadding(6);
  const yg = g.append("g").attr("transform", `translate(${left},0)`).call(ya);
  const xa = d3.axisBottom(x).tickValues(xTicks).tickSize(7).tickPadding(6)
    .tickFormat(i === panelData.length-1 ? d3.format("d") : () => "");
  const xg = g.append("g").attr("transform", `translate(0,${t+ph})`).call(xa);
  [yg, xg].forEach(a => {
    a.select(".domain").remove();
    a.selectAll(".tick line").attr("stroke", ink).attr("stroke-width", 2);
    a.selectAll(".tick text").attr("font-size", 22).attr("fill", ink)
      .attr("font-family", '"DejaVu Sans", sans-serif');
  });
  g.append("rect").attr("x", left).attr("y", t).attr("width", right-left).attr("height", ph)
    .attr("fill","none").attr("stroke", ink).attr("stroke-width", 2.2);
  g.append("text").attr("transform", `translate(21,${t+ph/2}) rotate(-90)`)
    .attr("text-anchor","middle").attr("dy","0.35em").attr("font-size", 25).text(yLabel);

  // legend
  const lg = svg.append("g").attr("transform", `translate(2879,${t+1})`);
  const box = lg.append("rect").attr("x",0).attr("y",0).attr("rx",4).attr("ry",4)
    .attr("height", 70).attr("fill","#fff").attr("fill-opacity",0.8)
    .attr("stroke","#d6d6d6").attr("stroke-width",1.5);
  let maxW = 0;
  seriesNames[i].forEach((nm, j) => {
    const cy = 16 + j*32.4;
    lg.append("line").attr("x1", 7).attr("x2", 54).attr("y1", cy).attr("y2", cy)
      .attr("stroke", colors[i][j]).attr("stroke-width", 2.5);
    const tx = lg.append("text").attr("x", 71).attr("y", cy).attr("dy","0.35em")
      .attr("font-size", 22).text(nm);
    maxW = Math.max(maxW, tx.node().getComputedTextLength());
  });
  box.attr("width", 71 + maxW + 11);
});

svg.append("text").attr("x", (left+right)/2).attr("y", 1620)
  .attr("text-anchor","middle").attr("font-size", 25).text(xLabel);
</script>
</body></html>
